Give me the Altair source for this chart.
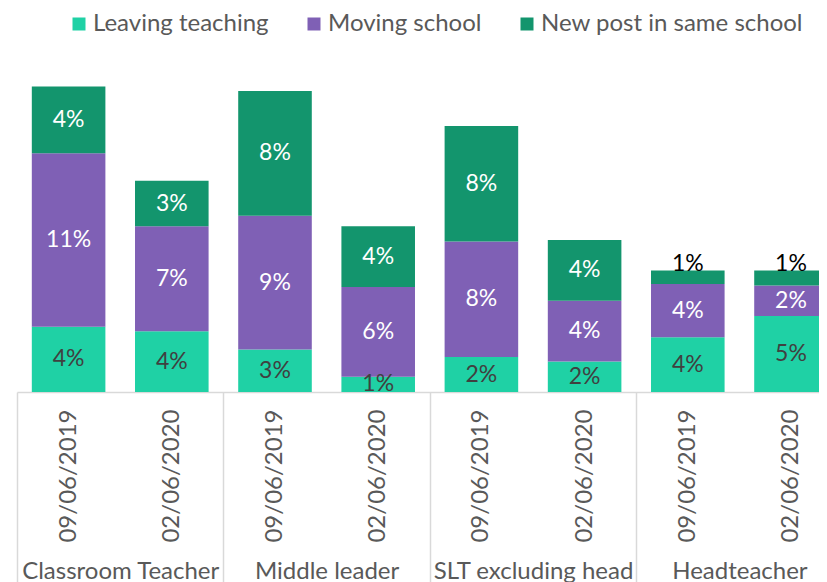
import altair as alt
import pandas as pd

groups = ["Classroom Teacher", "Middle leader", "SLT excluding head", "Headteacher"]
dates = ["09/06/2019", "02/06/2020"]
series = ["Leaving teaching", "Moving school", "New post in same school"]
leaving = [4.3, 4.0, 2.8, 1.0, 2.3, 2.0, 3.6, 5.0]
moving = [11.4, 6.9, 8.8, 5.9, 7.6, 4.0, 3.5, 2.0]
new_post = [4.4, 3.0, 8.2, 4.0, 7.6, 4.0, 0.9, 1.0]
colors = ["#1FD1A5", "#7F60B5", "#13956D"]

rows = []
i = 0
for g in groups:
    for d in dates:
        key = f"{g}|{d}"
        for s_idx, (s, vals) in enumerate(zip(series, [leaving, moving, new_post])):
            rows.append({"key": key, "group": g, "date": d, "series": s,
                         "order": s_idx, "value": vals[i]})
        i += 1
df = pd.DataFrame(rows)
keys = list(dict.fromkeys(df["key"]))
gdf = pd.DataFrame({"group": groups})

STEP = 103.2
RANGE = [0, STEP * 8]
GREY = "#595959"
LINE = "#d9d9d9"
FS = 24

x_bar = alt.X(
    "key:N", sort=keys,
    scale=alt.Scale(domain=keys, range=RANGE, paddingInner=0.287, paddingOuter=0.1435),
    axis=alt.Axis(title=None, orient="bottom", labelExpr="split(datum.value, '|')[1]",
                  labelAngle=-90, labelFontSize=FS, labelFont="Lato", labelColor=GREY,
                  labelPadding=17, labelLimit=300, ticks=False, domainColor=LINE,
                  domainWidth=1.5, grid=False),
)

base = alt.Chart(df).encode(x=x_bar)

bars = base.mark_bar().encode(
    y=alt.Y("value:Q", stack="zero",
            scale=alt.Scale(domain=[0, 320 / 15.2], nice=False, zero=True), axis=None),
    color=alt.Color("series:N", scale=alt.Scale(domain=series, range=colors),
                    legend=alt.Legend(title=None, orient="none", legendX=50, legendY=-60,
                                      direction="horizontal", symbolType="square",
                                      symbolSize=169, symbolStrokeWidth=0,
                                      labelFontSize=FS, labelFont="Lato", labelColor=GREY,
                                      labelOffset=2, columnPadding=33, labelLimit=400,
                                      padding=0)),
    order=alt.Order("order:Q"),
)

stacked = base.transform_stack(
    stack="value", groupby=["key"], as_=["v0", "v1"], sort=[alt.SortField("order")]
).transform_calculate(
    mid="(datum.v0 + datum.v1) / 2",
    label="round(datum.value) + '%'",
)

main_text = stacked.transform_filter(
    "!(datum.value < 1.2 && datum.order == 2)"
).mark_text(font="Lato", fontSize=23, baseline="middle").encode(
    y=alt.Y("mid:Q"),
    text="label:N",
    color=alt.condition("datum.order == 0", alt.value("#404040"), alt.value("white")),
)

top_text = stacked.transform_filter(
    "datum.value < 1.2 && datum.order == 2"
).mark_text(font="Lato", fontSize=23, baseline="alphabetic", dy=1, color="black").encode(
    y=alt.Y("v1:Q"),
    text="label:N",
)

inner = alt.layer(bars, main_text, top_text)

group_layer = alt.Chart(gdf).mark_text(opacity=0).encode(
    x=alt.X("group:N", sort=groups,
            scale=alt.Scale(domain=groups, range=RANGE, paddingInner=0, paddingOuter=0),
            axis=alt.Axis(orient="bottom", title=None, domain=False, ticks=True,
                          tickBand="extent", tickSize=190, tickColor=LINE, tickWidth=1.5,
                          labelFontSize=FS, labelFont="Lato", labelColor=GREY,
                          labelPadding=-4, labelBaseline="alphabetic", labelAngle=0,
                          labelLimit=400, grid=False)),
    text="group:N",
)

chart = alt.layer(inner, group_layer).resolve_scale(x="independent").properties(
    width=802, height=320,
    padding={"left": 9, "top": 64, "right": 0, "bottom": 190},
    autosize=alt.AutoSizeParams(type="none"),
).configure(font="Lato").configure_view(strokeWidth=0)

chart.save("out.html", embed_options={"renderer": "svg", "actions": False})
